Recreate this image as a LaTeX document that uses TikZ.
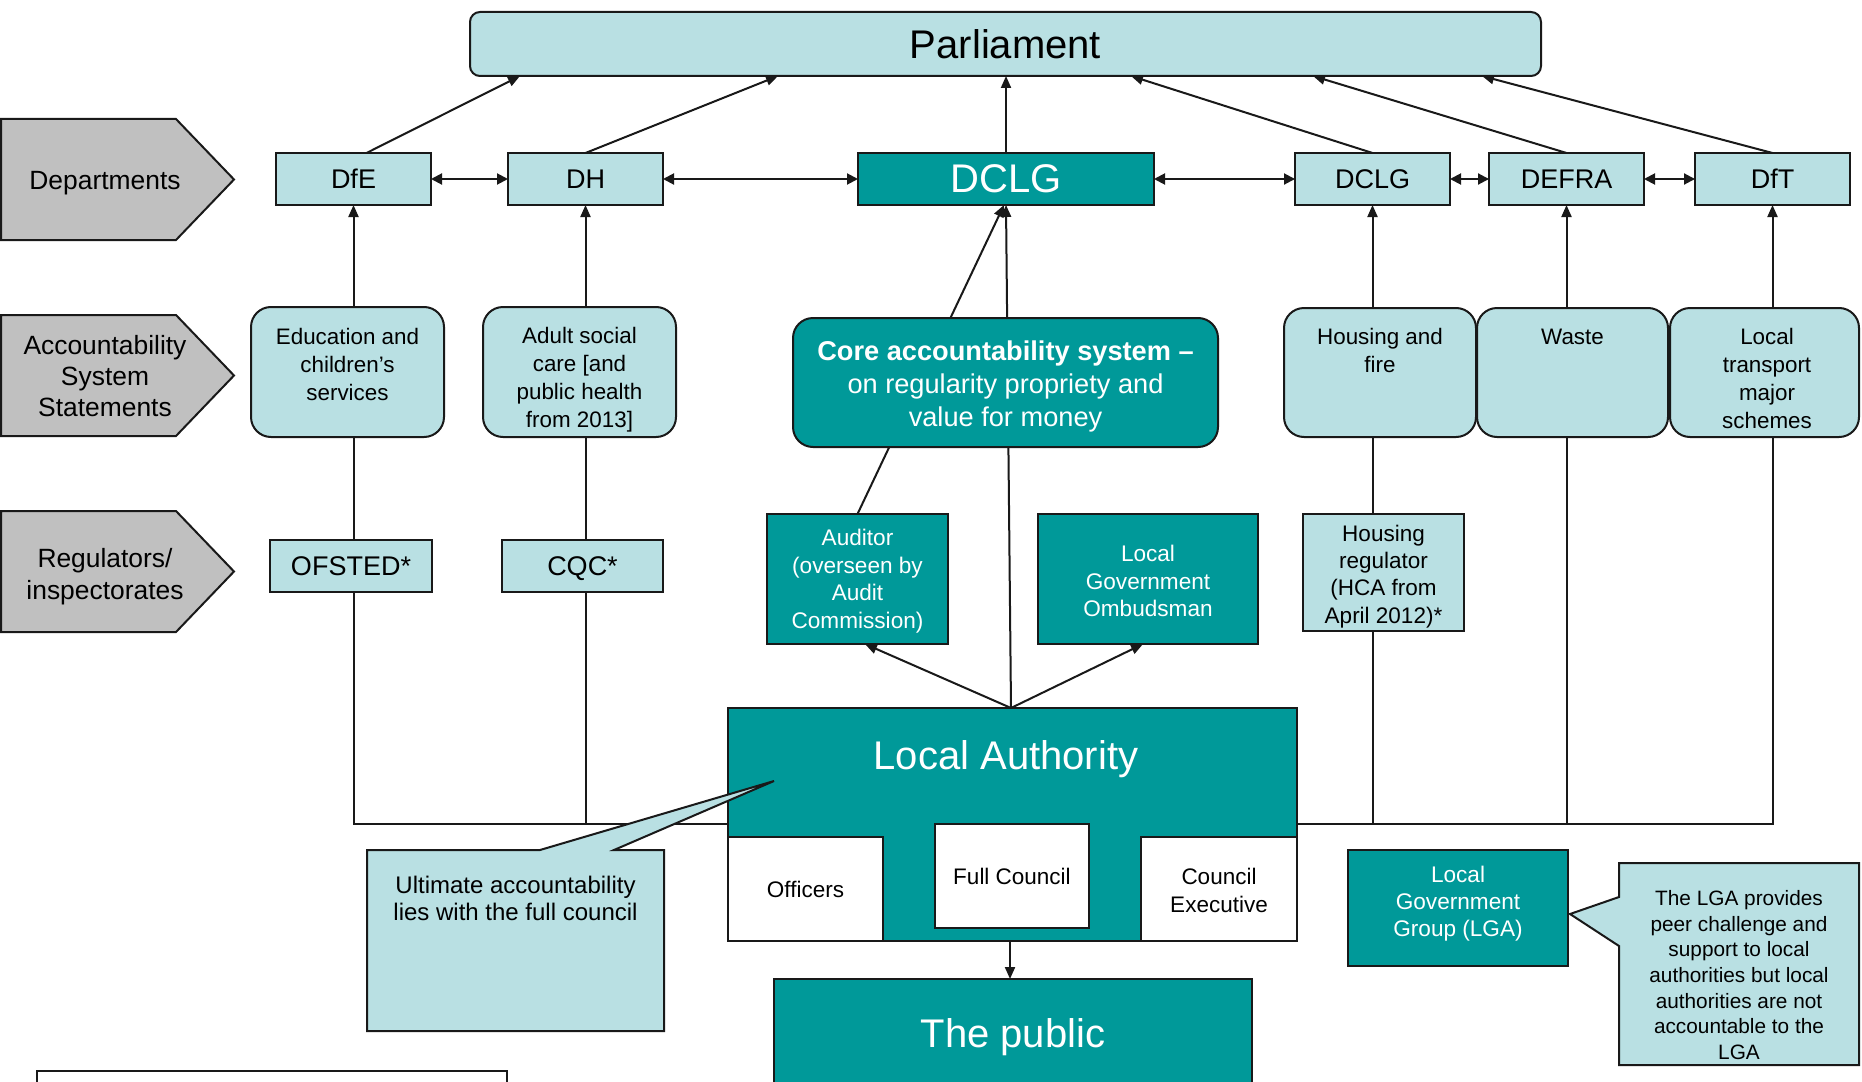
\documentclass[tikz,border=0pt]{standalone}
\usepackage{fontspec}
\setmainfont{Liberation Sans}
\usetikzlibrary{arrows.meta}
\definecolor{lightb}{RGB}{185,224,227}
\definecolor{tealc}{RGB}{0,153,153}
\definecolor{greyc}{RGB}{192,192,192}
\definecolor{edgec}{RGB}{25,25,25}
\pgfdeclarelayer{bg}
\pgfsetlayers{bg,main}
\newcommand\setfs[2]{\fontsize{#1pt}{#2pt}\selectfont}
\tikzset{
  box/.style={draw=edgec, line width=1pt, inner sep=0pt, outer sep=0pt, align=center},
  sz/.style 2 args={minimum width=#1*0.5pt, minimum height=#2*0.5pt},
  lb/.style={box, fill=lightb},
  tl/.style={box, fill=tealc, text=white},
  wb/.style={box, fill=white},
  rnd/.style={rounded corners=10pt},
  txt/.style={inner sep=0pt, outer sep=0pt, align=center},
  sl/.style={text depth=0pt},
  ln/.style={line width=1pt, draw=edgec},
  arr/.style={ln, -{Triangle[length=6pt,width=5pt]}},
  darr/.style={ln, {Triangle[length=5.5pt,width=5.5pt]}-{Triangle[length=5.5pt,width=5.5pt]}},
  chev/.style={draw=edgec, line width=1pt, fill=greyc},
  callout/.style={draw=edgec, line width=1pt, fill=lightb},
  dept/.style={font=\setfs{13.5}{16}, sl},
  big/.style={font=\setfs{20}{24}, sl},
  stmt/.style={txt, font=\setfs{11.2}{14}},
  reg/.style={font=\setfs{11.3}{13.75}},
}
\begin{document}
\begin{tikzpicture}[x=0.5pt,y=-0.5pt]
\useasboundingbox (0,0) rectangle (1862,1081);
\begin{pgfonlayer}{bg}
\fill[white] (0,0) rectangle (1862,1081);
\end{pgfonlayer}
\clip (0,0) rectangle (1862,1081);

% chevrons
\draw[chev] (1,119) -- (176,119) -- (234,179.5) -- (176,240) -- (1,240) -- cycle;
\node[txt, font=\setfs{13.2}{15.5}, sl] (lbldept) at (105,180) {Departments};
\draw[chev] (1,315) -- (176,315) -- (234,375.5) -- (176,436) -- (1,436) -- cycle;
\node[txt, font=\setfs{13.2}{15.5}] (lblacc) at (105,376) {Accountability\\System\\Statements};
\draw[chev] (1,511) -- (176,511) -- (234,571.5) -- (176,632) -- (1,632) -- cycle;
\node[txt, font=\setfs{13.2}{16}] (lblreg) at (105,576.5) {Regulators/\\inspectorates};

% parliament
\node[lb, rounded corners=5pt, sz={1071}{64}, big] (parl) at (1005.5,44) {Parliament};

% departments
\node[lb, sz={155}{52}, dept] (dfe) at (353.5,179) {DfE};
\node[lb, sz={155}{52}, dept] (dh) at (585.5,179) {DH};
\node[tl, sz={296}{52}, big] (dclg) at (1006,179) {DCLG};
\node[lb, sz={155}{52}, dept] (dclgb) at (1372.5,179) {DCLG};
\node[lb, sz={155}{52}, dept] (defra) at (1566.5,179) {DEFRA};
\node[lb, sz={155}{52}, dept] (dft) at (1772.5,179) {DfT};

% statements
\node[lb, rnd, sz={193}{130}] (edu) at (347.5,372) {};
\node[stmt] (edut) at (347.5,364.5) {Education and\\children’s\\services};
\node[lb, rnd, sz={193}{130}] (adult) at (579.5,372) {};
\node[stmt] (adultt) at (579.5,380) {Adult social\\care [and\\public health\\from 2013]};
\node[tl, rnd, sz={425}{129}] (core) at (1005.5,382.5) {};
\node[txt, text=white, font=\setfs{13.6}{16.7}] (coret) at (1005.5,386.5) {\textbf{Core accountability system –}\\on regularity propriety and\\value for money};
\node[lb, rnd, sz={192}{129}] (housing) at (1380,372.5) {};
\node[stmt] (housingt) at (1380,350.5) {Housing and\\fire};
\node[lb, rnd, sz={191}{129}] (waste) at (1572.5,372.5) {};
\node[stmt, sl] (wastet) at (1572.5,337) {Waste};
\node[lb, rnd, sz={189}{129}] (ltrans) at (1764.5,372.5) {};
\node[stmt] (ltranst) at (1767,378) {Local\\transport\\major\\schemes};

% regulators
\node[lb, sz={162}{52}, dept] (ofsted) at (351,566) {OFSTED*};
\node[lb, sz={161}{52}, dept] (cqc) at (582.5,566) {CQC*};
\node[tl, sz={181}{130}] (auditor) at (857.5,579) {};
\node[txt, text=white, reg] (auditort) at (857.5,581) {Auditor\\(overseen by\\Audit\\Commission)};
\node[tl, sz={220}{130}] (ombud) at (1148,579) {};
\node[txt, text=white, reg] (ombudt) at (1148,581) {Local\\Government\\Ombudsman};
\node[lb, sz={161}{117}] (hreg) at (1383.5,572.5) {};
\node[txt, font=\setfs{11.25}{13.6}] (hregt) at (1383.5,576.5) {Housing\\regulator\\(HCA from\\April 2012)*};

% local authority
\node[tl, sz={569}{233}] (la) at (1012.5,824.5) {};
\node[txt, big, text=white] (lat) at (1006,755) {Local Authority};
\node[wb, sz={155}{104}, font=\setfs{11.25}{14.3}, sl] (officers) at (805.5,889) {Officers};
\node[wb, sz={154}{104}, font=\setfs{11.25}{14.3}, sl] (fullc) at (1012,876) {Full Council};
\node[wb, sz={156}{104}] (cexec) at (1219,889) {};
\node[txt, font=\setfs{11.25}{14.3}] (cexect) at (1219,890.5) {Council\\Executive};
\node[tl, sz={478}{121}] (public) at (1013,1039.5) {};
\node[txt, big, text=white] (pubt) at (1013,1033) {The public};
\node[tl, sz={220}{116}] (lga) at (1458,908) {};
\node[txt, text=white, font=\setfs{11.3}{13.35}] (lgat) at (1458,903.5) {Local\\Government\\Group (LGA)};
\node[wb, sz={470}{40}] (blbox) at (272,1091) {};

% callouts
\draw[callout] (367,850) -- (540,850) -- (774,781) -- (614,850) -- (664,850) -- (664,1031) -- (367,1031) -- cycle;
\node[txt, font=\setfs{12}{13.7}] (ult) at (515.5,898.5) {Ultimate accountability\\lies with the full council};
\draw[callout] (1619,863) -- (1859,863) -- (1859,1065) -- (1619,1065) -- (1619,946) -- (1570,914) -- (1619,897) -- cycle;
\node[txt, font=\setfs{10.4}{12.85}] (lgac) at (1739,975) {The LGA provides\\peer challenge and\\support to local\\authorities but local\\authorities are not\\accountable to the\\LGA};

% connectors
\begin{pgfonlayer}{bg}
\draw[arr] ([xshift=6.5pt]dfe.north) -- (parl.south -| 520,0);
\draw[arr] (dh.north) -- (parl.south -| 778,0);
\draw[arr] (dclg.north) -- (parl.south -| dclg.north);
\draw[arr] (dclgb.north) -- (parl.south -| 1131,0);
\draw[arr] (defra.north) -- (parl.south -| 1313,0);
\draw[arr] (dft.north) -- (parl.south -| 1482,0);
\draw[darr] (dfe.east) -- (dh.west);
\draw[darr] (dh.east) -- (dclg.west);
\draw[darr] (dclg.east) -- (dclgb.west);
\draw[darr] (dclgb.east) -- (defra.west);
\draw[darr] (defra.east) -- (dft.west);
\draw[arr] (edu.north -| dfe.south) -- (dfe.south);
\draw[arr] (adult.north -| dh.south) -- (dh.south);
\draw[arr] (housing.north -| dclgb.south) -- (dclgb.south);
\draw[arr] (waste.north -| defra.south) -- (defra.south);
\draw[arr] (ltrans.north -| dft.south) -- (dft.south);
\coordinate (barL) at (la.west |- 0,824);
\coordinate (barR) at (la.east |- 0,824);
\draw[ln] (edu.south -| dfe.south) |- (barL);
\draw[ln] (adult.south -| dh.south) -- (dh.south |- barL);
\draw[ln] (barR) -| (ltrans.south -| dft.south);
\draw[ln] (housing.south -| dclgb.south) -- (dclgb.south |- barR);
\draw[ln] (waste.south -| defra.south) -- (defra.south |- barR);
\coordinate (latop) at (la.north -| 1011,0);
\draw[arr] (latop) -- (dclg.south);
\draw[arr] (auditor.north) -- ([xshift=-1pt]dclg.south);
\draw[arr] (latop) -- (auditor.south -| 865,0);
\draw[arr] (latop) -- (ombud.south -| 1143,0);
\draw[arr] (la.south -| 1010,0) -- (public.north -| 1010,0);
\end{pgfonlayer}
\end{tikzpicture}
\end{document}
